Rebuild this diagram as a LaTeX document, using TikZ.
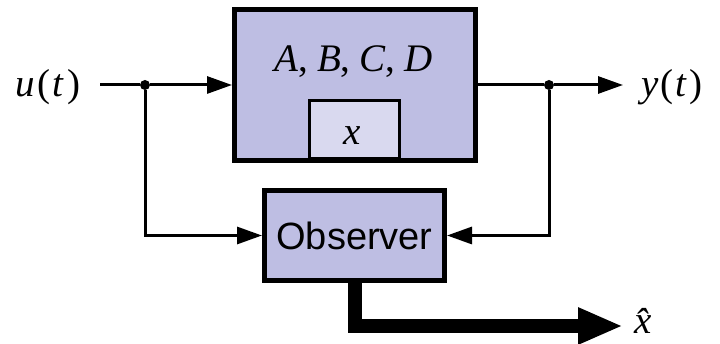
\documentclass[tikz,border=0pt]{standalone}
\usepackage{fontspec}
\setmainfont{Liberation Serif}
\newfontfamily\blocksans{Liberation Sans}
\usetikzlibrary{arrows.meta}

\definecolor{plantfill}{RGB}{190,190,227}
\definecolor{statefill}{RGB}{217,217,239}

\newcommand{\iv}[1]{\textit{#1}}

\begin{document}
\begin{tikzpicture}[x=1pt,y=-1pt,
  blockbox/.style={draw=black, line width=5pt, fill=plantfill, rectangle, inner sep=0pt},
  statebox/.style={draw=black, line width=2.7pt, fill=statefill, rectangle, inner sep=0pt},
  signal/.style={line width=3pt, line join=miter},
  sigarrow/.style={signal, -{Triangle[length=25pt,width=17pt]}},
  estarrow/.style={line width=14pt, line join=miter, -{Triangle[length=45pt,width=34pt]}},
  junction/.style={circle, fill=black, inner sep=0pt, minimum size=10pt},
  lbl/.style={font=\fontsize{39}{42}\selectfont, inner sep=0pt, anchor=base}
]
\useasboundingbox (0,0) rectangle (720,344);

% plant and observer blocks
\node[blockbox, minimum width=241pt, minimum height=151pt] (plant) at (355,85) {};
\node[statebox, minimum width=90pt, minimum height=57.5pt] (state) at (354.5,129.25) {};
\node[lbl] (abcd) at (353.5,71.5) {\iv{A},\hspace{9pt}\iv{B},\hspace{9pt}\iv{C},\hspace{9pt}\iv{D}};
\node[lbl] (xs) at (352.5,145) {\iv{x}};
\node[blockbox, minimum width=180pt, minimum height=90pt, font=\blocksans\fontsize{38}{40}\selectfont] (obs) at (354.5,235.5) {Observer};

% signal labels
\node[lbl] (u) at (48,97) {\iv{u}\kern3pt(\kern2pt\iv{t}\kern3pt)};
\node[lbl] (y) at (672,97) {\iv{y}\kern2pt(\kern2pt\iv{t}\kern2pt)};
\node[lbl] (xh) at (650,334) {\iv{\^{x}}};

% branch points and free ends
\node[junction] (ju) at (145,85) {};
\node[junction] (jy) at (549,85) {};
\coordinate (uin) at (100,85);
\coordinate (ytip) at (623,85);
\coordinate (xtip) at (623,326);

% connectors
\draw[signal] (uin) -- (ju);
\draw[sigarrow] (ju) -- (plant.west |- ju);
\draw[sigarrow] (ju) |- (obs.west);
\draw[signal] (plant.east |- jy) -- (jy);
\draw[sigarrow] (jy) -- (ytip);
\draw[sigarrow] (jy) |- (obs.east);
\draw[estarrow] (obs.south) |- (xtip);
\end{tikzpicture}
\end{document}
